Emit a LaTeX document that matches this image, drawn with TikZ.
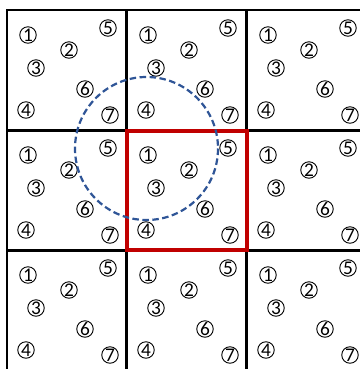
\documentclass[tikz,border=0pt]{standalone}
\usepackage{fontspec}
\setmainfont{Carlito}
\definecolor{dashblue}{HTML}{2F5597}
\definecolor{boxred}{HTML}{C00000}
\newcommand{\numfont}{\fontsize{14.5}{15}\selectfont}
\tikzset{
  num/.style={circle,draw=black,line width=0.9pt*0.75,inner sep=0pt,minimum size=16.5pt*0.75,font=\numfont},
  gridline/.style={line width=3pt*0.75,black},
  outerline/.style={line width=2pt*0.75,black},
  redbox/.style={line width=4pt*0.75,boxred},
  rangecircle/.style={line width=2.2pt*0.75,dashblue,dash pattern=on 6.5pt*0.75 off 3.5pt*0.75}
}
\begin{document}
\begin{tikzpicture}[x=0.75pt,y=-0.75pt]
\useasboundingbox (0,0) rectangle (360,369);
\clip (0,0) rectangle (360,369);
\fill[white] (0,0) rectangle (360,369);
% circled numbers in each of the 3x3 cells
\foreach \i in {0,1,2}{
  \foreach \j in {0,1,2}{
    \foreach \k/\dx/\dy in {1/21/25,2/62/40,3/29/58,4/19/100,5/101/18,6/78/79,7/103/105}{
      \node[num] (c-\i-\j-\k) at ({7+120*\i+\dx},{10+120*\j+\dy}) {\numfont\makebox[0pt]{\k}};
    }
  }
}
% grid
\draw[outerline] (7,400) -- (7,10) -- (400,10);
\foreach \x in {127,247,367} \draw[gridline] (\x,10) -- (\x,400);
\foreach \y in {130,250,370} \draw[gridline] (7,\y) -- (400,\y);
% red box
\draw[redbox] (127,130.5) rectangle (247,249.5);
% dashed range circle
\coordinate (ctr) at (146.5,148.5);
\draw[rangecircle] (ctr) circle[radius=71.5];
\end{tikzpicture}
\end{document}
